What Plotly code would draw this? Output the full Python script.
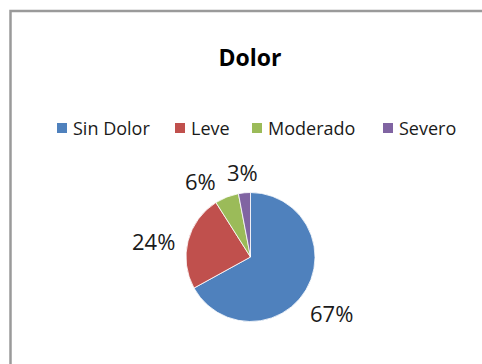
import math
import plotly.graph_objects as go

categories = ["Sin Dolor", "Leve", "Moderado", "Severo"]
values = [67, 24, 6, 3]
colors = ["#4F81BD", "#C0504D", "#9BBB59", "#8064A2"]

W, H = 482, 364
FONT = "'Open Sans', sans-serif"
TXT = "#1a1a1a"

# pie geometry (pixels)
CX, CY, R = 250.5, 257.0, 64.5
LABEL_SIZE = 22
LABEL_GAP = 11
# angular nudge (degrees) per label so small neighbouring slices don't collide
LABEL_NUDGE = [4, -5, -12, 0]

# legend layout (pixels): left edge of each swatch, vertical centre
LEGEND_X = [57, 175, 252, 383]
LEGEND_Y = 128
SWATCH = 10

fig = go.Figure()
fig.add_trace(go.Pie(
    labels=categories,
    values=values,
    sort=False,
    direction="clockwise",
    rotation=0,
    marker=dict(colors=colors, line=dict(color="white", width=0.8)),
    textinfo="none",
    domain=dict(x=[(CX - R) / W, (CX + R) / W],
                y=[(H - CY - R) / H, (H - CY + R) / H]),
    hoverinfo="label+percent",
    showlegend=False,
))

# percentage labels placed just outside each slice, along its mid-angle
total = sum(values)
acc = 0.0
for v, nudge in zip(values, LABEL_NUDGE):
    frac = v / total
    mid = (acc + frac / 2) * 2 * math.pi + math.radians(nudge)
    acc += frac
    sx, sy = math.sin(mid), -math.cos(mid)
    text = f"{round(frac * 100)}%"
    hw = 7.3 * len(text)
    hh = 9
    d = R + LABEL_GAP + abs(sx) * hw + abs(sy) * hh
    px, py = CX + sx * d, CY + sy * d
    fig.add_annotation(x=px / W, y=1 - py / H, xref="paper", yref="paper",
                       text=text, showarrow=False, xanchor="center",
                       yanchor="middle",
                       font=dict(size=LABEL_SIZE, color=TXT, family=FONT))

# legend: coloured swatch followed by the category name
for name, col, lx in zip(categories, colors, LEGEND_X):
    fig.add_shape(type="rect", xref="paper", yref="paper",
                  x0=lx / W, x1=(lx + SWATCH) / W,
                  y0=1 - (LEGEND_Y + SWATCH / 2) / H,
                  y1=1 - (LEGEND_Y - SWATCH / 2) / H,
                  fillcolor=col, line=dict(width=0))
    fig.add_annotation(x=(lx + SWATCH + 4) / W, y=1 - LEGEND_Y / H,
                       xref="paper", yref="paper", text=name,
                       showarrow=False, xanchor="left", yanchor="middle",
                       font=dict(size=18, color=TXT, family=FONT))

# chart-area frame (top and left edges visible)
fig.add_shape(type="rect", xref="paper", yref="paper",
              x0=10.5 / W, x1=1.2, y0=-0.2, y1=1 - 11 / H,
              line=dict(color="#9a9a9a", width=2.5))

fig.update_layout(
    width=W, height=H,
    margin=dict(l=0, r=0, t=0, b=0),
    paper_bgcolor="white",
    plot_bgcolor="white",
    title=dict(text="<b>Dolor</b>", x=250 / W, xanchor="center",
               y=1 - 58 / H, yanchor="middle",
               font=dict(size=23, color="black", family=FONT)),
    showlegend=False,
)

fig.write_html("out.html")
